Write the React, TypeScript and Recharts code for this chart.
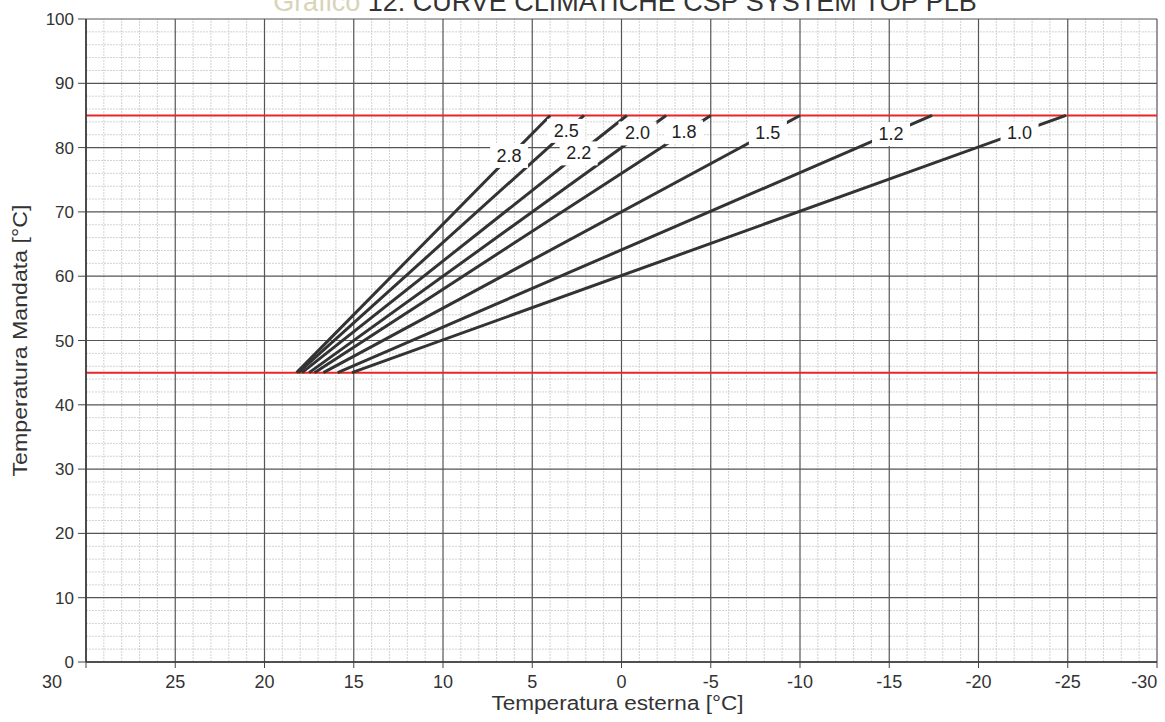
import React from 'react';
import {
  LineChart, Line, XAxis, YAxis, ReferenceLine, ReferenceDot,
} from 'recharts';

// curve names and end points (Te in °C, T mandata in °C)
const curveNames = ['2.8', '2.5', '2.2', '2.0', '1.8', '1.5', '1.2', '1.0'];
const curveStartX = [18.2, 18.1, 17.9, 17.5, 17.2, 16.7, 15.9, 15.1];
const curveStartY = [45, 45, 45, 45, 45, 45, 45, 45];
const curveEndX = [4.0, 2.1, -0.3, -2.5, -5.0, -10.0, -17.4, -24.9];
const curveEndY = [85, 85, 85, 85, 85, 85, 85, 85];
const labelX = [6.3, 3.1, 2.4, -0.9, -3.5, -8.2, -15.1, -22.3];
const labelY = [78.7, 82.6, 79.1, 82.2, 82.4, 82.3, 82.1, 82.2];

const limitLines = [85, 45];

const xTicks = [30, 25, 20, 15, 10, 5, 0, -5, -10, -15, -20, -25, -30];
const yTicks = [0, 10, 20, 30, 40, 50, 60, 70, 80, 90, 100];
const xMinor = Array.from({ length: 61 }, (_, i) => 30 - i).filter(v => v % 5 !== 0);
const yMinor = Array.from({ length: 51 }, (_, i) => i * 2).filter(v => v % 10 !== 0);

const FONT = "'Liberation Sans', Arial, sans-serif";

const XTick = ({ x, y, payload }: any) => {
  let shift = 0;
  if (payload.value === 30) shift = -34;
  if (payload.value === -30) shift = -10;
  return (
    <text x={x + shift} y={y + 18} textAnchor="middle" fontSize={18}
      fontFamily={FONT} fill="#333">
      {payload.value}
    </text>
  );
};

const YTick = ({ x, y, payload }: any) => (
  <text x={x - 2} y={y + 6} textAnchor="end" fontSize={17} fontFamily={FONT} fill="#333">
    {payload.value}
  </text>
);

const YLabel = ({ viewBox }: any) => {
  const cy = viewBox.y + viewBox.height / 2;
  return (
    <text x={27} y={cy} transform={`rotate(-90, 27, ${cy})`} textAnchor="middle"
      fontSize={20} fontFamily={FONT} fill="#333" textLength={272} lengthAdjust="spacingAndGlyphs">
      Temperatura Mandata [°C]
    </text>
  );
};

const XLabel = ({ viewBox }: any) => {
  const cx = viewBox.x + viewBox.width / 2;
  return (
    <text x={cx - 4} y={710} textAnchor="middle" fontSize={20} fontFamily={FONT} fill="#333"
      textLength={252} lengthAdjust="spacingAndGlyphs">
      Temperatura esterna [°C]
    </text>
  );
};

const CurveLabel = ({ cx, cy, text }: any) => (
  <g>
    <rect x={cx - 19} y={cy - 12} width={38} height={24} fill="#fff" />
    <text x={cx} y={cy + 6} textAnchor="middle" fontSize={18} fontFamily={FONT} fill="#222">
      {text}
    </text>
  </g>
);

export default function App() {
  const curves = curveNames.map((name, i) => ({
    name,
    data: [
      { x: curveStartX[i], y: curveStartY[i] },
      { x: curveEndX[i], y: curveEndY[i] },
    ],
  }));

  return (
    <div style={{ position: 'absolute', left: 0, top: 0, width: 1165, height: 722, background: '#fff', overflow: 'hidden' }}>
      <div style={{
        position: 'absolute', top: -13, left: 0, width: 1250, textAlign: 'center',
        fontFamily: FONT, fontSize: 27, color: '#333', whiteSpace: 'nowrap',
      }}>
        <span style={{ color: '#d8d4b8' }}>Grafico </span>12: CURVE CLIMATICHE CSP SYSTEM TOP PLB
      </div>
      <LineChart width={1165} height={722} margin={{ top: 19, right: 8, left: 16, bottom: 0 }}
        style={{ position: 'absolute', left: 0, top: 0 }}>
        <XAxis dataKey="x" type="number" domain={[-30, 30]} reversed ticks={xTicks}
          allowDataOverflow height={60} tick={<XTick />} tickLine={{ stroke: '#444' }} tickSize={6}
          axisLine={{ stroke: '#333', strokeWidth: 1.5 }} label={<XLabel />} />
        <YAxis type="number" domain={[0, 100]} ticks={yTicks} width={70}
          tick={<YTick />} tickLine={{ stroke: '#444' }} tickSize={8}
          axisLine={{ stroke: '#333', strokeWidth: 1.5 }} label={<YLabel />} />

        {xMinor.map(v => (
          <ReferenceLine key={`xm${v}`} x={v} stroke="#d2d2d2" strokeWidth={1} strokeDasharray="2 1" />
        ))}
        {yMinor.map(v => (
          <ReferenceLine key={`ym${v}`} y={v} stroke="#d2d2d2" strokeWidth={1} strokeDasharray="2 1" />
        ))}
        {xTicks.map(v => (
          <ReferenceLine key={`xM${v}`} x={v} stroke="#555" strokeWidth={1.2} />
        ))}
        {yTicks.map(v => (
          <ReferenceLine key={`yM${v}`} y={v} stroke="#555" strokeWidth={1.2} />
        ))}
        {limitLines.map(v => (
          <ReferenceLine key={`lim${v}`} y={v} stroke="#e8262a" strokeWidth={2} />
        ))}

        {curves.map(c => (
          <Line key={c.name} data={c.data} dataKey="y" type="linear" stroke="#333"
            strokeWidth={3} dot={false} activeDot={false} isAnimationActive={false} />
        ))}

        {curveNames.map((name, i) => (
          <ReferenceDot key={`lab${name}`} x={labelX[i]} y={labelY[i]} r={0}
            ifOverflow="visible"
            shape={(p: any) => <CurveLabel cx={p.cx} cy={p.cy} text={name} />} />
        ))}
      </LineChart>
    </div>
  );
}
